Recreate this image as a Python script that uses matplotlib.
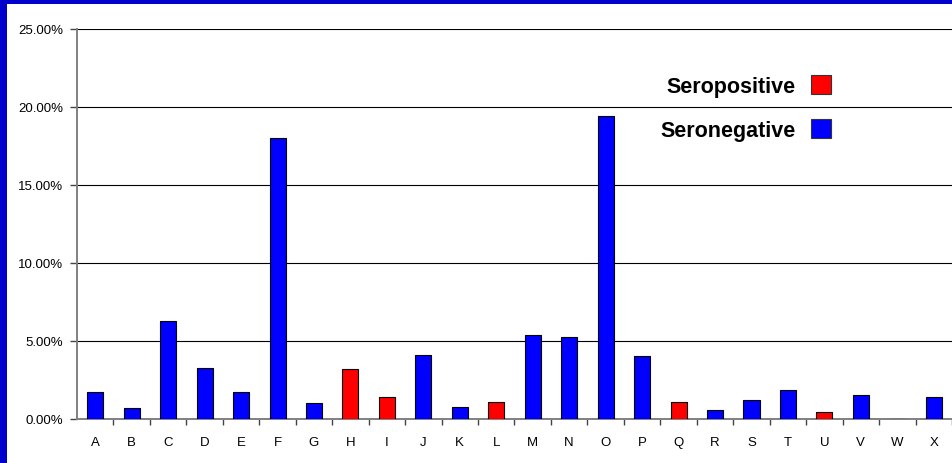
import matplotlib
matplotlib.use("Agg")
import matplotlib.pyplot as plt
from matplotlib.patches import Patch, Rectangle
from matplotlib.ticker import FuncFormatter, MultipleLocator

plt.rcParams['font.family'] = ['Liberation Sans', 'DejaVu Sans']

categories = list("ABCDEFGHIJKLMNOPQRSTUVWX")
values = [1.71, 0.70, 6.30, 3.29, 1.71, 17.99, 1.00, 3.18, 1.39, 4.10, 0.75, 1.07,
          5.36, 5.24, 19.44, 4.04, 1.07, 0.56, 1.24, 1.86, 0.43, 1.52, 0.0, 1.39]
status = ["neg", "neg", "neg", "neg", "neg", "neg", "neg", "pos", "pos", "neg", "neg", "pos",
          "neg", "neg", "neg", "neg", "pos", "neg", "neg", "neg", "pos", "neg", "neg", "neg"]
series_labels = {"pos": "Seropositive", "neg": "Seronegative"}
series_colors = {"pos": "#FF0000", "neg": "#0000FF"}

W, H = 953, 464
fig = plt.figure(figsize=(W / 100, H / 100), dpi=100)
fig.patch.set_facecolor("#0000CC")
# white canvas inside the blue frame (left and top edges)
fig.patches.append(Rectangle((7 / W, 0), 1 - 7 / W, (H - 5) / H,
                             transform=fig.transFigure, facecolor="white",
                             edgecolor="none", zorder=-10))

ax = fig.add_axes([77 / W, 44 / H, (952 - 77) / W, (420 - 30) / H])
ax.set_zorder(5)
ax.set_facecolor("none")

x = list(range(len(categories)))
colors = [series_colors[s] for s in status]
ax.bar(x, values, width=0.44, color=colors, edgecolor="black", linewidth=0.8, zorder=3)

ax.set_xlim(-0.5, len(categories) - 0.5)
ax.set_ylim(0, 25)
ax.yaxis.set_major_locator(MultipleLocator(5))
ax.yaxis.set_major_formatter(FuncFormatter(lambda v, p: f"{v:.2f}%"))
ax.grid(axis="y", color="black", linewidth=0.8, zorder=1)
ax.set_axisbelow(True)

ax.set_xticks(x)
ax.set_xticklabels(categories)
ax.tick_params(axis="x", length=0, pad=12, labelsize=9.5, colors="black")
ax.set_xticks([i + 0.5 for i in x], minor=True)
ax.tick_params(axis="x", which="minor", length=4, width=1.0, color="#444444", direction="out")
ax.tick_params(axis="y", length=5, width=1.0, color="#444444", labelsize=9.5, pad=5)

for side in ("top", "right"):
    ax.spines[side].set_visible(False)
for side in ("left", "bottom"):
    ax.spines[side].set_color("#808080")
    ax.spines[side].set_linewidth(1.4)

handles = [Patch(facecolor=series_colors[k], edgecolor="#333333", linewidth=0.8,
                 label=series_labels[k]) for k in ("pos", "neg")]
leg = ax.legend(handles=handles, loc="upper right", bbox_to_anchor=(831 / W, (H - 76) / H),
                bbox_transform=fig.transFigure, frameon=False, markerfirst=False,
                prop={"weight": "bold", "size": 15.5}, handlelength=0.95, handleheight=1.0,
                handletextpad=0.7, labelspacing=1.0, borderpad=0, borderaxespad=0)

fig.savefig("out.png", dpi=100, facecolor=fig.get_facecolor())
